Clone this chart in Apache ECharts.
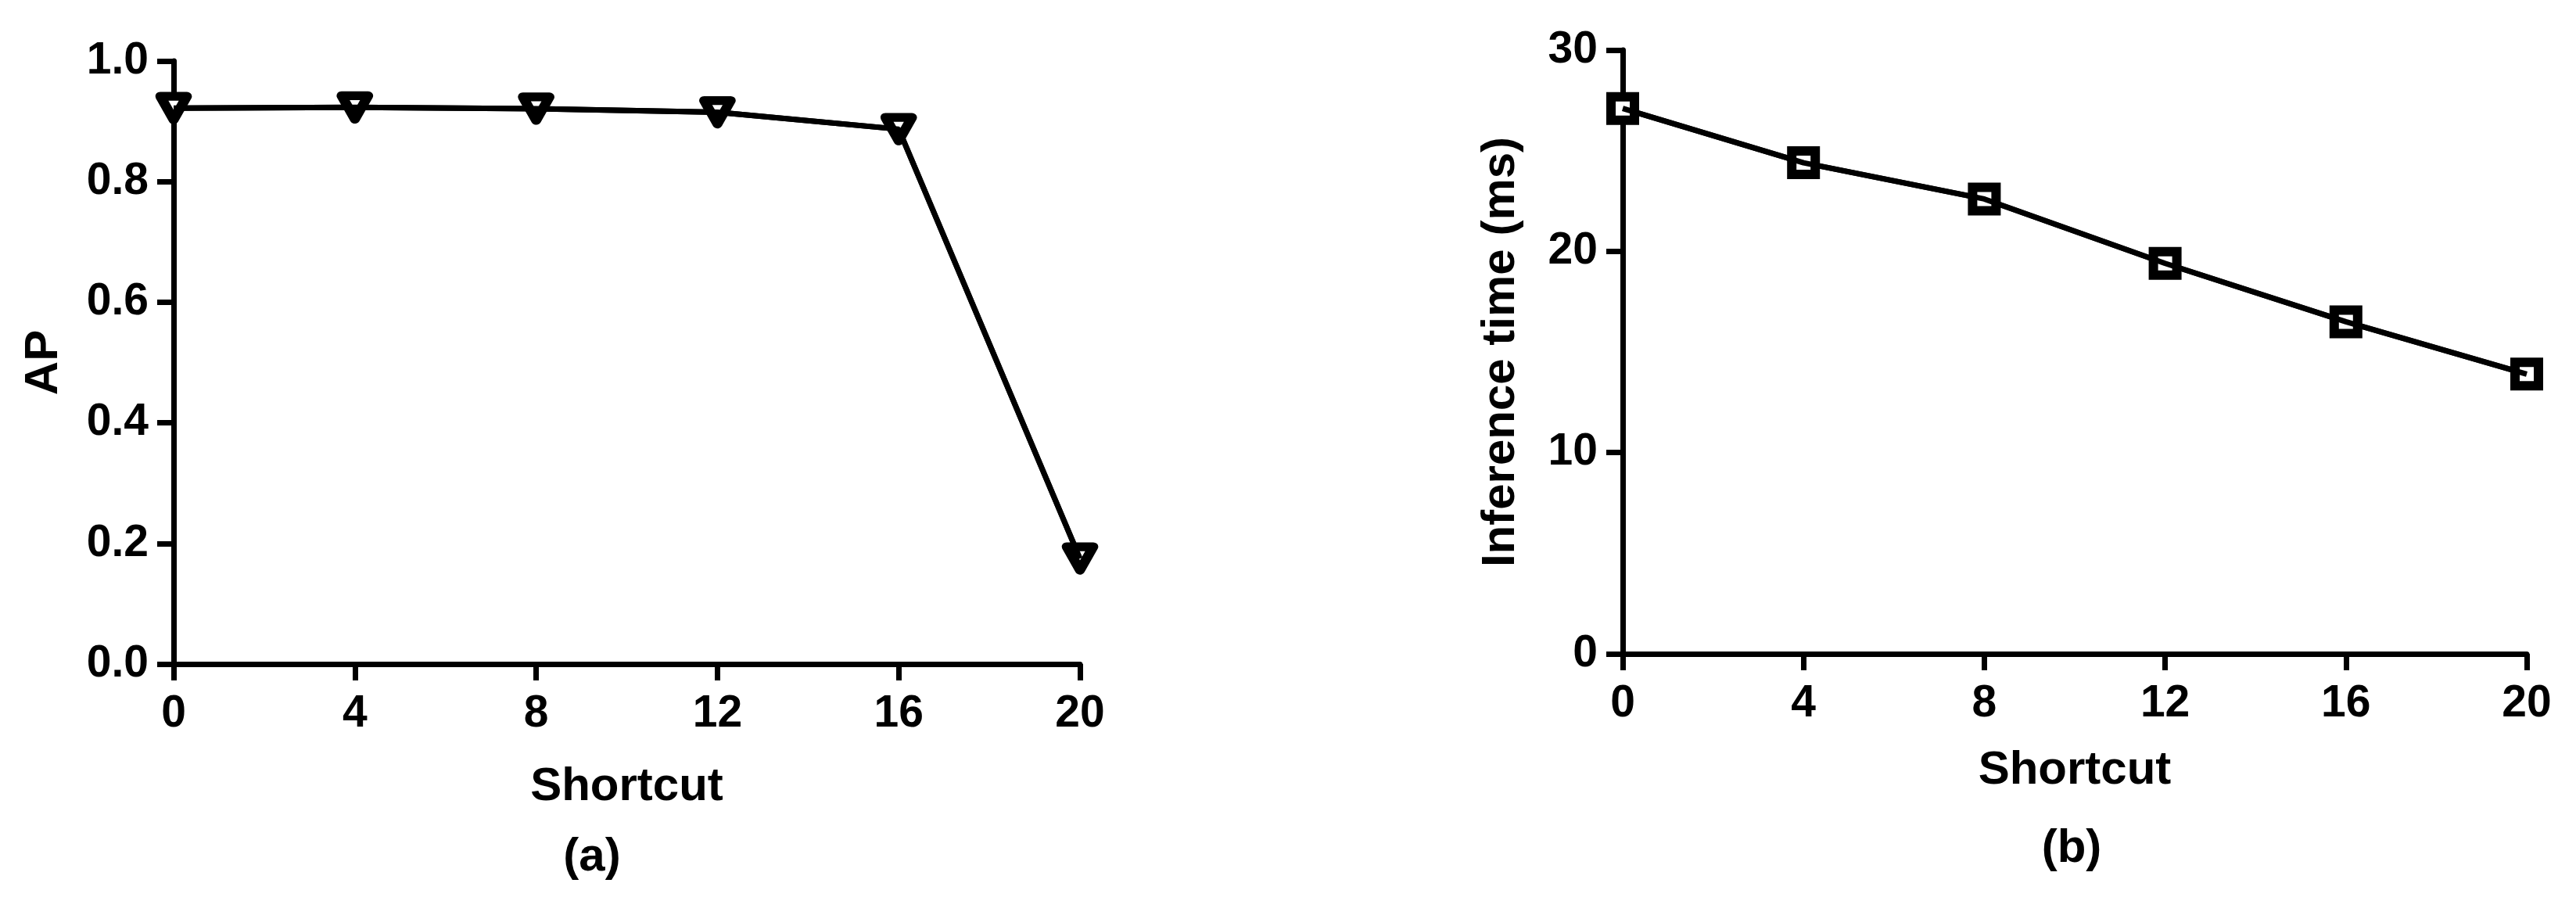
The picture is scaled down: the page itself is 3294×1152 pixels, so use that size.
<!DOCTYPE html>
<html>
	<head>
		<meta charset="UTF-8">
		<title></title>
		<style>
			html,body{margin:0;padding:0;background:#fff}
			#chart{width:3294px;height:1152px}
		</style>
	</head>
	<body>
		<div id="chart"></div>
		<script src="https://cdn.jsdelivr.net/npm/echarts@6/dist/echarts.min.js"></script>
<script>
// shortcut count on x, AP and inference time on y
var shortcut = [0, 4, 8, 12, 16, 20];
var apValues = [0.922, 0.923, 0.921, 0.915, 0.887, 0.175];
var timeValues = [27.1, 24.4, 22.6, 19.4, 16.5, 13.9];
var xTicks = [0, 4, 8, 12, 16, 20];
var apTicks = ['0.0', '0.2', '0.4', '0.6', '0.8', '1.0'];
var timeTicks = ['0', '10', '20', '30'];
var panelLabels = ['(a)', '(b)'];

var font = 'Liberation Sans, Arial, sans-serif';

function pairs(xs, ys) {
	var out = [];
	for (var i = 0; i < xs.length; i++) {
		out.push([xs[i], ys[i]]);
	}
	return out;
}

function xAxisOf(idx, gap) {
	return {
		type: 'value',
		gridIndex: idx,
		min: xTicks[0],
		max: xTicks[xTicks.length - 1],
		interval: xTicks[1] - xTicks[0],
		name: 'Shortcut',
		nameLocation: 'middle',
		nameGap: gap,
		nameTextStyle: {color: '#000', fontSize: 60, fontWeight: 'bold', fontFamily: font},
		axisLine: {lineStyle: {color: '#000', width: 7}},
		axisTick: {length: 21, lineStyle: {color: '#000', width: 7}},
		axisLabel: {color: '#000', fontSize: 57, fontWeight: 'bold', fontFamily: font, margin: 36},
		splitLine: {show: false}
	};
}

var e = echarts.init(document.getElementById('chart')),
	a = {
		backgroundColor: '#fff',
		animation: false,
		grid: [
			{left: 222, top: 78, width: 1159, height: 771},
			{left: 2075, top: 64, width: 1156, height: 772}
		],
		xAxis: [xAxisOf(0, 127), xAxisOf(1, 119)],
		yAxis: [
			{
				type: 'value',
				gridIndex: 0,
				min: 0,
				max: 1,
				interval: 0.2,
				name: 'AP',
				nameLocation: 'middle',
				nameGap: 136,
				nameTextStyle: {color: '#000', fontSize: 60, fontWeight: 'bold', fontFamily: font},
				axisLine: {show: true, lineStyle: {color: '#000', width: 7}},
				axisTick: {show: true, length: 21, lineStyle: {color: '#000', width: 7}},
				axisLabel: {
					color: '#000', fontSize: 57, fontWeight: 'bold', fontFamily: font, margin: 32,
					formatter: function (v) { return apTicks[Math.round(v * 5)]; }
				},
				splitLine: {show: false}
			},
			{
				type: 'value',
				gridIndex: 1,
				min: 0,
				max: 30,
				interval: 10,
				name: 'Inference time (ms)',
				nameLocation: 'middle',
				nameGap: 126,
				nameTextStyle: {color: '#000', fontSize: 60, fontWeight: 'bold', fontFamily: font},
				axisLine: {show: true, lineStyle: {color: '#000', width: 7}},
				axisTick: {show: true, length: 21, lineStyle: {color: '#000', width: 7}},
				axisLabel: {
					color: '#000', fontSize: 57, fontWeight: 'bold', fontFamily: font, margin: 32,
					formatter: function (v) { return timeTicks[Math.round(v / 10)]; }
				},
				splitLine: {show: false}
			}
		],
		series: [
			{
				type: 'line',
				xAxisIndex: 0,
				yAxisIndex: 0,
				clip: false,
				symbol: 'triangle',
				symbolRotate: 180,
				symbolSize: [34, 30],
				itemStyle: {color: '#fff', borderColor: '#000', borderWidth: 12, borderJoin: 'round'},
				lineStyle: {color: '#000', width: 7},
				data: pairs(shortcut, apValues)
			},
			{
				// line drawn again over the markers, as in the original
				type: 'line',
				xAxisIndex: 0,
				yAxisIndex: 0,
				clip: false,
				z: 5,
				symbol: 'none',
				lineStyle: {color: '#000', width: 7},
				data: pairs(shortcut, apValues)
			},
			{
				type: 'line',
				xAxisIndex: 1,
				yAxisIndex: 1,
				clip: false,
				symbol: 'rect',
				symbolSize: 30,
				itemStyle: {color: '#fff', borderColor: '#000', borderWidth: 12},
				lineStyle: {color: '#000', width: 7},
				data: pairs(shortcut, timeValues)
			},
			{
				type: 'line',
				xAxisIndex: 1,
				yAxisIndex: 1,
				clip: false,
				z: 5,
				symbol: 'none',
				lineStyle: {color: '#000', width: 7},
				data: pairs(shortcut, timeValues)
			}
		],
		graphic: [
			{
				type: 'text', x: 757, y: 1096,
				style: {text: panelLabels[0], fill: '#000', font: 'bold 60px ' + font, textAlign: 'center', textVerticalAlign: 'middle'}
			},
			{
				type: 'text', x: 2649, y: 1085,
				style: {text: panelLabels[1], fill: '#000', font: 'bold 60px ' + font, textAlign: 'center', textVerticalAlign: 'middle'}
			}
		]
	};
e.setOption(a);
</script>
	</body>
</html>
